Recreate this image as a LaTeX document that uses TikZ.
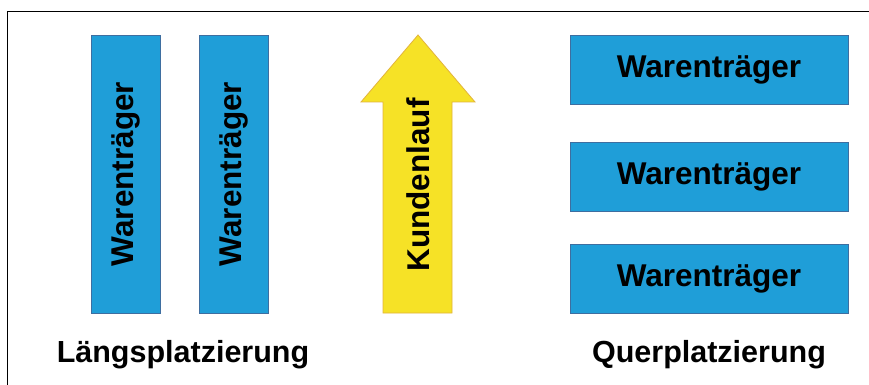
\documentclass[tikz,border=0pt]{standalone}
\usepackage{fontspec}
\setmainfont{Liberation Sans}
\definecolor{boxblue}{RGB}{31,158,216}
\definecolor{boxedge}{RGB}{62,110,160}
\definecolor{arrowyellow}{RGB}{246,226,38}
\definecolor{arrowedge}{RGB}{226,180,60}
\tikzset{
  boxtext/.style={font=\fontsize{31.5}{36}\selectfont\bfseries, text=black},
  shelf/.style={draw=boxedge, line width=0.8pt, fill=boxblue, inner sep=0pt, boxtext},
  vshelf/.style={shelf, minimum width=278pt, minimum height=69pt, rotate=90},
  hshelf/.style={shelf, minimum width=278pt, minimum height=69pt},
  caption/.style={font=\fontsize{30.5}{36}\selectfont\bfseries, text=black, anchor=base},
}
\begin{document}
\begin{tikzpicture}[x=1pt,y=-1pt]
\useasboundingbox (0,0) rectangle (869,385);
\fill[white] (0,0) rectangle (869,385);
% frame
\coordinate (fb) at (7.5,385);
\coordinate (fc) at (7.5,11.5);
\coordinate (fr) at (869,11.5);
\draw[line width=1pt] (fb) -- (fc) -- (fr);
% vertical shelves
\node[vshelf] (v1) at (125.5,174) {Warenträger};
\node[vshelf] (v2) at (233.5,174) {Warenträger};
% horizontal shelves
\node[hshelf] (h1) at (709,69.5) {Warenträger};
\node[hshelf] (h2) at (709,177) {Warenträger};
\node[hshelf] (h3) at (709,278.5) {Warenträger};
% arrow
\coordinate (tip) at (418,35);
\coordinate (hl) at (361,102);
\coordinate (hr) at (475,102);
\coordinate (sl) at (383,102);
\coordinate (sr) at (452,102);
\coordinate (bl) at (383,313);
\coordinate (br) at (452,313);
\draw[draw=arrowedge, line width=0.8pt, fill=arrowyellow, line join=miter]
  (tip) -- (hr) -- (sr) -- (br) -- (bl) -- (sl) -- (hl) -- cycle;
\node[boxtext, rotate=90, inner sep=0pt] (kl) at (418,185) {Kundenlauf};
% captions
\node[caption] (c1) at (183,362) {Längsplatzierung};
\node[caption] (c2) at (709,362) {Querplatzierung};
\end{tikzpicture}
\end{document}
